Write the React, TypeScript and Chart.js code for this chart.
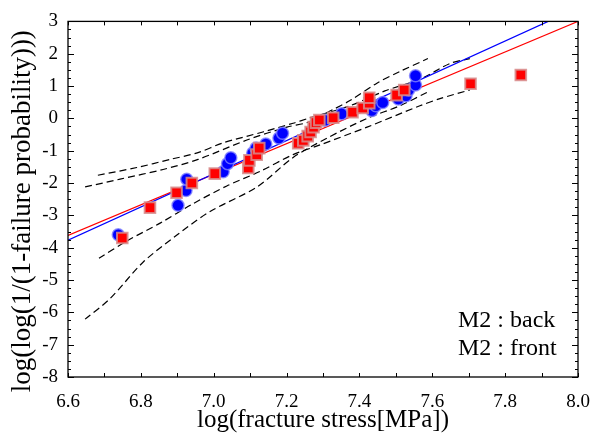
import React, { useEffect, useRef } from "react";
import { Chart, registerables } from "chart.js";
Chart.register(...registerables);

// Observed points: M2 back (blue circles)
const backX = [6.738, 6.902, 6.924, 6.926, 7.026, 7.038, 7.047, 7.107, 7.116, 7.143, 7.179, 7.189, 7.305, 7.351, 7.434, 7.445, 7.464, 7.507, 7.528, 7.535, 7.554, 7.554];
const backY = [-3.60, -2.69, -2.23, -1.88, -1.65, -1.40, -1.22, -1.07, -0.92, -0.79, -0.61, -0.46, -0.06, 0.14, 0.24, 0.39, 0.49, 0.60, 0.70, 0.88, 1.03, 1.32];

// Observed points: M2 front (red squares)
const frontX = [6.749, 6.825, 6.898, 6.940, 7.003, 7.095, 7.098, 7.118, 7.125, 7.232, 7.246, 7.258, 7.266, 7.274, 7.281, 7.290, 7.328, 7.381, 7.409, 7.427, 7.427, 7.502, 7.523, 7.705, 7.843];
const frontY = [-3.70, -2.76, -2.30, -2.00, -1.71, -1.53, -1.30, -1.12, -0.92, -0.77, -0.68, -0.55, -0.42, -0.27, -0.13, -0.05, 0.02, 0.19, 0.32, 0.47, 0.64, 0.72, 0.88, 1.07, 1.34];

// Fitted lines
const backFitX = [6.6, 7.918];
const backFitY = [-3.77, 3.0];
const frontFitX = [6.6, 8.0];
const frontFitY = [-3.62, 3.0];

// Confidence bands (dashed)
const bandBUpperX = [6.647, 6.743, 6.861, 6.957, 7.091, 7.201, 7.259, 7.327, 7.374, 7.448, 7.511, 7.588];
const bandBUpperY = [-2.12, -1.88, -1.58, -1.27, -0.67, -0.27, -0.12, 0.27, 0.55, 1.09, 1.45, 1.85];
const bandBLowerX = [6.647, 6.715, 6.806, 6.899, 6.990, 7.119, 7.218, 7.311, 7.421, 7.511, 7.588];
const bandBLowerY = [-6.21, -5.58, -4.45, -3.61, -2.88, -2.12, -1.21, -0.61, 0.00, 0.39, 0.82];
const bandFUpperX = [6.682, 6.789, 6.880, 6.957, 7.025, 7.135, 7.218, 7.259, 7.374, 7.470, 7.566, 7.649, 7.703];
const bandFUpperY = [-1.76, -1.52, -1.27, -1.06, -0.76, -0.42, -0.15, 0.00, 0.39, 0.85, 1.21, 1.70, 1.85];
const bandFLowerX = [6.685, 6.762, 6.853, 6.943, 7.036, 7.127, 7.218, 7.292, 7.421, 7.566, 7.621, 7.703];
const bandFLowerY = [-4.33, -3.79, -3.24, -2.64, -2.09, -1.64, -1.12, -0.82, -0.27, 0.39, 0.61, 0.88];

const legendLabels = ["M2 : back", "M2 : front"];
const xTitle = "log(fracture stress[MPa])";
const yTitle = "log(log(1/(1-failure probability)))";

const pts = (xs: number[], ys: number[]) => xs.map((x, i) => ({ x, y: ys[i] }));

const FONT = '"Liberation Serif", "Times New Roman", serif';

const framePlugin = {
  id: "frame",
  afterDraw(chart: any) {
    const { ctx, chartArea: a, scales } = chart;
    const xs = scales.x;
    const ys = scales.y;
    ctx.save();
    ctx.strokeStyle = "#000";
    ctx.lineWidth = 1.3;
    ctx.strokeRect(a.left, a.top, a.right - a.left, a.bottom - a.top);
    ctx.lineWidth = 1;
    ctx.beginPath();
    for (let i = 66; i <= 80; i++) {
      const px = Math.round(xs.getPixelForValue(i / 10)) + 0.5;
      ctx.moveTo(px, a.bottom);
      ctx.lineTo(px, a.bottom - 4);
      ctx.moveTo(px, a.top);
      ctx.lineTo(px, a.top + 4);
    }
    for (let i = -32; i <= 12; i++) {
      const py = Math.round(ys.getPixelForValue(i / 4)) + 0.5;
      const len = i % 4 === 0 ? 6 : 3;
      ctx.moveTo(a.left, py);
      ctx.lineTo(a.left + len, py);
      ctx.moveTo(a.right, py);
      ctx.lineTo(a.right - len, py);
    }
    ctx.stroke();
    ctx.fillStyle = "#000";
    ctx.font = `24px ${FONT}`;
    ctx.textAlign = "left";
    ctx.textBaseline = "alphabetic";
    ctx.fillText(legendLabels[0], a.right - 120, a.bottom - 50);
    ctx.fillText(legendLabels[1], a.right - 120, a.bottom - 22);
    // y-axis title
    ctx.save();
    ctx.translate(23, (a.top + a.bottom) / 2 + 12);
    ctx.rotate(-Math.PI / 2);
    ctx.font = `27px ${FONT}`;
    ctx.textAlign = "center";
    ctx.textBaseline = "middle";
    ctx.fillText(yTitle, 0, 0);
    ctx.restore();
    ctx.restore();
  },
};

export default function App() {
  const ref = useRef<HTMLCanvasElement>(null);
  useEffect(() => {
    document.body.style.margin = "0";
    const dash = (xs: number[], ys: number[]) => ({
      data: pts(xs, ys),
      showLine: true,
      borderColor: "#000",
      borderWidth: 1.2,
      borderDash: [7, 4],
      pointRadius: 0,
      tension: 0.3,
      order: 4,
    });
    const chart = new Chart(ref.current!, {
      type: "scatter",
      data: {
        datasets: [
          {
            label: legendLabels[1],
            data: pts(frontX, frontY),
            pointStyle: "rect",
            pointRadius: 7.5,
            backgroundColor: "#ff0000",
            borderColor: "rgba(215,140,140,0.85)",
            borderWidth: 2,
            order: 0,
          },
          {
            label: legendLabels[0],
            data: pts(backX, backY),
            pointStyle: "circle",
            pointRadius: 6,
            backgroundColor: "#0000ff",
            borderColor: "rgba(130,130,255,0.8)",
            borderWidth: 1.5,
            order: 1,
          },
          {
            data: pts(backFitX, backFitY),
            showLine: true,
            borderColor: "#0000ff",
            borderWidth: 1.2,
            pointRadius: 0,
            order: 2,
          },
          {
            data: pts(frontFitX, frontFitY),
            showLine: true,
            borderColor: "#ff0000",
            borderWidth: 1.2,
            pointRadius: 0,
            order: 2,
          },
          dash(bandBUpperX, bandBUpperY),
          dash(bandBLowerX, bandBLowerY),
          dash(bandFUpperX, bandFUpperY),
          dash(bandFLowerX, bandFLowerY),
        ] as any,
      },
      options: {
        animation: false,
        responsive: false,
        devicePixelRatio: 1,
        layout: { padding: { top: 14, right: 22, left: 0, bottom: 0 } },
        plugins: { legend: { display: false }, tooltip: { enabled: false } },
        scales: {
          x: {
            type: "linear",
            min: 6.6,
            max: 8.0,
            grid: { display: false, drawTicks: false },
            border: { display: false },
            ticks: {
              stepSize: 0.2,
              autoSkip: false,
              maxRotation: 0,
              padding: 10,
              color: "#000",
              font: { family: FONT, size: 19, lineHeight: 1.6 },
              callback: (v: any) => Number(v).toFixed(1),
            },
            title: {
              display: true,
              text: xTitle,
              color: "#000",
              font: { family: FONT, size: 25 },
              padding: { top: 0, bottom: 4 },
            },
            afterFit: (s: any) => {
              s.height = 62;
            },
          },
          y: {
            type: "linear",
            min: -8,
            max: 3,
            grid: { display: false, drawTicks: false },
            border: { display: false },
            ticks: {
              stepSize: 1,
              padding: 10,
              color: "#000",
              font: { family: FONT, size: 19 },
              callback: (v: any) => String(v),
            },
            title: { display: false },
            afterFit: (s: any) => {
              s.width = 68;
            },
          },
        },
      } as any,
      plugins: [framePlugin],
    });
    return () => chart.destroy();
  }, []);
  return (
    <div style={{ width: 600, height: 439 }}>
      <canvas ref={ref} width={600} height={439} />
    </div>
  );
}
